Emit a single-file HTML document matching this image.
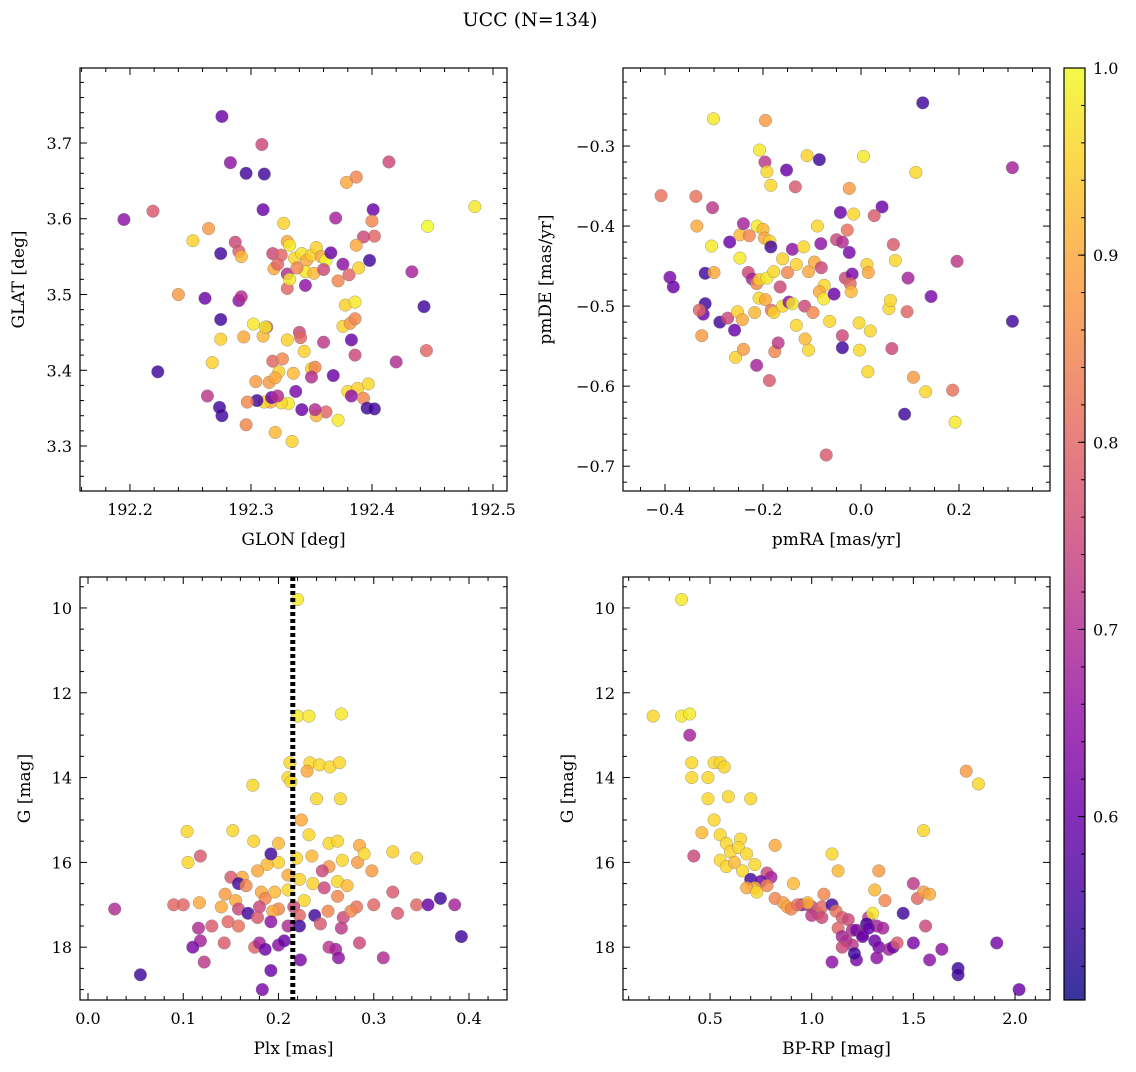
<!DOCTYPE html>
<html><head><meta charset="utf-8"><style>
body{margin:0;background:#fff}
svg text{font-family:"DejaVu Serif","Liberation Serif",serif;fill:#000}
</style></head><body>
<svg id="fig" width="1136" height="1067" viewBox="0 0 1136 1067" xmlns="http://www.w3.org/2000/svg">
<defs>
<linearGradient id="plasma" x1="0" y1="1" x2="0" y2="0">
<stop offset="0" stop-color="#0d0887"/><stop offset="0.1" stop-color="#41049d"/><stop offset="0.2" stop-color="#6a00a8"/><stop offset="0.3" stop-color="#8f0da4"/><stop offset="0.4" stop-color="#b12a90"/><stop offset="0.5" stop-color="#cc4778"/><stop offset="0.6" stop-color="#e16462"/><stop offset="0.7" stop-color="#f2844b"/><stop offset="0.8" stop-color="#fca636"/><stop offset="0.9" stop-color="#fcce25"/><stop offset="1" stop-color="#f0f921"/>
</linearGradient>
</defs>
<text x="530" y="26" text-anchor="middle" font-size="19">UCC (N=134)</text>
</svg>
<script>
// ---- data ----
const tlGlon=[192.276,192.283,192.296,192.311,192.309,192.195,192.219,192.310,192.327,192.370,192.379,192.387,192.414,192.401,192.400,192.402,192.393,192.387,192.485,192.446,192.433,192.398,192.376,192.252,192.265,192.275,192.287,192.290,192.292,192.318,192.325,192.330,192.332,192.336,192.342,192.346,192.350,192.354,192.358,192.362,192.345,192.330,192.319,192.322,192.338,192.352,192.360,192.366,192.345,192.330,192.372,192.381,192.389,192.240,192.262,192.290,192.292,192.275,192.302,192.275,192.294,192.310,192.313,192.312,192.330,192.340,192.341,192.318,192.326,192.323,192.315,192.320,192.335,192.350,192.344,192.360,192.376,192.382,192.386,192.378,192.386,192.383,192.386,192.353,192.350,192.368,192.380,192.388,192.397,192.383,192.393,192.396,192.372,192.362,192.354,192.353,192.342,192.337,192.331,192.325,192.316,192.311,192.317,192.322,192.305,192.297,192.304,192.320,192.334,192.296,192.276,192.274,192.264,192.223,192.268,192.402,192.420,192.443,192.445,192.332];
const tlGlat=[3.735,3.674,3.660,3.659,3.698,3.599,3.610,3.612,3.594,3.601,3.648,3.655,3.675,3.612,3.597,3.577,3.576,3.565,3.616,3.590,3.530,3.545,3.540,3.571,3.587,3.554,3.569,3.557,3.550,3.554,3.552,3.570,3.565,3.548,3.554,3.545,3.552,3.562,3.550,3.545,3.530,3.527,3.534,3.540,3.535,3.528,3.533,3.555,3.512,3.508,3.518,3.526,3.535,3.500,3.495,3.492,3.497,3.467,3.461,3.441,3.444,3.445,3.457,3.457,3.440,3.450,3.443,3.412,3.415,3.398,3.384,3.390,3.396,3.402,3.425,3.437,3.458,3.462,3.468,3.486,3.490,3.440,3.420,3.404,3.391,3.393,3.372,3.376,3.382,3.366,3.363,3.350,3.334,3.345,3.340,3.348,3.348,3.372,3.356,3.357,3.358,3.358,3.364,3.366,3.360,3.358,3.385,3.318,3.306,3.328,3.340,3.351,3.366,3.398,3.410,3.349,3.411,3.484,3.426,3.520];
const tlProb=[0.6,0.65,0.55,0.55,0.75,0.65,0.78,0.6,0.95,0.68,0.9,0.85,0.75,0.6,0.85,0.8,0.75,0.9,0.98,1.0,0.68,0.55,0.65,0.95,0.88,0.55,0.75,0.78,0.92,0.75,0.8,0.9,0.98,0.96,0.97,0.9,0.95,0.95,0.9,1.0,0.98,0.7,0.9,0.8,0.85,0.92,0.75,0.6,0.65,0.8,0.85,0.8,0.95,0.88,0.6,0.65,0.7,0.55,0.98,0.95,0.9,0.92,0.75,0.98,0.95,0.75,0.8,0.8,0.85,0.95,0.88,0.9,0.92,0.95,0.95,0.72,0.95,0.88,0.85,0.95,0.98,0.6,0.75,0.85,0.7,0.6,0.96,0.95,0.96,0.65,0.85,0.55,0.98,0.8,0.92,0.7,0.6,0.62,0.98,0.96,0.9,0.96,0.6,0.7,0.55,0.85,0.88,0.92,0.95,0.85,0.55,0.55,0.72,0.55,0.95,0.55,0.7,0.55,0.8,0.98];

const trPmra=[0.126,0.309,0.309,-0.301,-0.195,-0.207,-0.196,-0.192,-0.152,-0.110,-0.085,0.005,0.112,-0.408,-0.337,-0.303,-0.184,-0.134,-0.024,0.043,0.027,-0.042,-0.015,-0.335,-0.305,-0.268,-0.247,-0.240,-0.228,-0.212,-0.200,-0.197,-0.186,-0.184,-0.140,-0.117,-0.089,-0.082,-0.050,-0.038,-0.024,-0.028,0.066,0.070,0.196,-0.390,-0.383,-0.318,-0.300,-0.247,-0.230,-0.222,-0.213,-0.207,-0.192,-0.178,-0.165,-0.150,-0.160,-0.132,-0.107,-0.095,-0.081,-0.075,-0.085,-0.076,-0.055,-0.032,-0.018,-0.022,-0.020,0.012,0.015,0.096,0.143,-0.318,-0.322,-0.330,-0.325,-0.288,-0.272,-0.252,-0.258,-0.242,-0.217,-0.208,-0.195,-0.183,-0.178,-0.160,-0.147,-0.140,-0.132,-0.115,-0.098,-0.064,-0.004,0.019,0.057,0.094,-0.256,-0.240,-0.213,-0.176,-0.169,-0.187,-0.114,-0.107,-0.038,-0.038,-0.003,0.063,0.107,0.132,0.187,0.192,0.089,0.014,-0.071,0.060];
const trPmde=[-0.246,-0.327,-0.519,-0.266,-0.268,-0.305,-0.320,-0.332,-0.330,-0.312,-0.317,-0.313,-0.333,-0.362,-0.363,-0.377,-0.349,-0.351,-0.353,-0.376,-0.387,-0.383,-0.385,-0.400,-0.425,-0.420,-0.411,-0.397,-0.412,-0.400,-0.404,-0.415,-0.419,-0.426,-0.429,-0.426,-0.400,-0.422,-0.417,-0.420,-0.433,-0.405,-0.423,-0.443,-0.444,-0.464,-0.476,-0.459,-0.458,-0.440,-0.458,-0.466,-0.472,-0.467,-0.465,-0.457,-0.476,-0.458,-0.441,-0.448,-0.457,-0.445,-0.452,-0.474,-0.482,-0.491,-0.485,-0.465,-0.460,-0.472,-0.482,-0.448,-0.458,-0.465,-0.488,-0.497,-0.510,-0.505,-0.537,-0.520,-0.515,-0.507,-0.530,-0.517,-0.508,-0.490,-0.492,-0.505,-0.508,-0.500,-0.495,-0.497,-0.524,-0.500,-0.508,-0.519,-0.521,-0.531,-0.503,-0.507,-0.564,-0.554,-0.574,-0.557,-0.546,-0.593,-0.541,-0.555,-0.537,-0.552,-0.555,-0.553,-0.589,-0.607,-0.605,-0.645,-0.635,-0.582,-0.686,-0.493];
const trProb=[0.55,0.68,0.55,0.98,0.88,0.98,0.72,0.96,0.6,0.95,0.55,0.98,0.96,0.82,0.82,0.72,0.96,0.78,0.88,0.6,0.78,0.6,0.96,0.9,0.98,0.6,0.92,0.68,0.85,0.98,0.92,0.9,0.95,0.55,0.65,0.96,0.96,0.65,0.75,0.7,0.62,0.82,0.78,0.96,0.72,0.62,0.6,0.55,0.9,0.98,0.75,0.68,0.85,0.95,0.98,0.96,0.75,0.85,0.95,0.95,0.9,0.9,0.75,0.96,0.9,0.98,0.6,0.75,0.62,0.8,0.92,0.95,0.9,0.68,0.62,0.55,0.6,0.8,0.88,0.55,0.75,0.95,0.6,0.9,0.92,0.96,0.9,0.82,0.95,0.96,0.65,0.98,0.96,0.75,0.85,0.96,0.96,0.96,0.96,0.8,0.95,0.88,0.68,0.85,0.72,0.78,0.92,0.96,0.75,0.55,0.96,0.75,0.88,0.96,0.82,0.98,0.55,0.96,0.78,0.96];

const blPlx=[0.220,0.220,0.232,0.266,0.212,0.233,0.243,0.254,0.264,0.230,0.210,0.213,0.173,0.240,0.265,0.224,0.152,0.104,0.174,0.232,0.253,0.262,0.285,0.200,0.267,0.283,0.290,0.320,0.345,0.105,0.118,0.200,0.188,0.178,0.192,0.219,0.235,0.253,0.246,0.162,0.150,0.158,0.166,0.210,0.222,0.236,0.262,0.272,0.298,0.248,0.182,0.144,0.155,0.186,0.196,0.210,0.227,0.262,0.282,0.320,0.345,0.357,0.370,0.385,0.090,0.100,0.117,0.028,0.140,0.158,0.168,0.180,0.200,0.194,0.216,0.222,0.238,0.252,0.268,0.276,0.300,0.325,0.116,0.130,0.147,0.158,0.178,0.192,0.210,0.222,0.244,0.266,0.118,0.110,0.143,0.122,0.175,0.180,0.186,0.200,0.206,0.223,0.253,0.260,0.263,0.285,0.310,0.392,0.055,0.192,0.183];
const blG=[9.8,12.55,12.55,12.5,13.65,13.65,13.7,13.75,13.65,13.85,14.0,14.1,14.18,14.5,14.5,15.0,15.25,15.27,15.5,15.35,15.55,15.5,15.6,15.55,15.95,16.0,15.8,15.75,15.9,16.0,15.85,16.0,16.05,16.2,15.8,15.9,15.85,16.1,16.2,16.35,16.35,16.5,16.55,16.3,16.4,16.5,16.45,16.55,16.2,16.6,16.7,16.75,16.9,16.85,16.7,16.65,16.9,16.8,17.05,16.7,17.0,17.0,16.85,17.0,17.0,17.0,16.95,17.1,17.05,17.1,17.2,17.05,17.1,17.15,17.05,17.25,17.25,17.15,17.3,17.15,17.0,17.2,17.55,17.5,17.4,17.5,17.3,17.4,17.5,17.5,17.45,17.55,17.85,18.0,17.9,18.35,18.0,17.9,18.05,17.95,17.85,18.3,18.0,18.05,18.25,17.9,18.25,17.75,18.65,18.55,19.0];
const blProb=[0.98,0.98,0.98,0.98,0.96,0.96,0.96,0.96,0.96,0.9,0.96,0.96,0.96,0.96,0.96,0.9,0.96,0.96,0.95,0.96,0.96,0.96,0.9,0.92,0.96,0.88,0.96,0.95,0.96,0.96,0.78,0.95,0.92,0.9,0.55,0.96,0.92,0.88,0.75,0.9,0.78,0.55,0.85,0.9,0.95,0.95,0.96,0.92,0.88,0.75,0.9,0.88,0.9,0.85,0.92,0.96,0.96,0.85,0.82,0.78,0.8,0.6,0.55,0.68,0.8,0.8,0.9,0.7,0.9,0.75,0.55,0.75,0.85,0.9,0.75,0.8,0.55,0.85,0.75,0.85,0.8,0.78,0.7,0.78,0.8,0.82,0.78,0.65,0.7,0.55,0.78,0.72,0.68,0.62,0.78,0.72,0.8,0.68,0.6,0.65,0.6,0.62,0.72,0.68,0.65,0.75,0.7,0.55,0.55,0.6,0.62];

const brBpRp=[0.36,0.22,0.36,0.40,0.40,0.41,0.52,0.55,0.57,0.41,0.49,0.59,0.70,0.49,1.76,1.82,0.52,0.46,0.55,0.58,0.65,0.82,1.55,0.60,0.64,0.68,0.55,0.58,0.62,0.66,0.72,1.10,1.13,0.42,0.78,0.80,0.70,0.75,0.72,0.68,0.73,0.78,0.82,0.86,0.88,0.90,0.95,0.98,1.00,1.03,1.00,1.05,1.06,1.10,1.12,1.15,1.13,1.18,1.20,1.15,1.22,1.25,1.17,1.20,1.15,1.10,1.22,1.25,1.28,1.30,1.31,1.32,1.31,1.33,1.33,1.32,1.38,1.40,1.42,1.45,1.50,1.52,1.55,1.58,1.56,1.50,1.58,1.64,1.72,1.72,1.91,2.02,1.36,0.98,0.91,1.27,1.28,1.35,1.21,1.05,0.93];
const brG=[9.8,12.55,12.55,12.5,13.0,13.65,13.65,13.65,13.75,14.0,14.0,14.45,14.5,14.5,13.85,14.15,15.0,15.3,15.35,15.55,15.45,15.6,15.25,15.75,15.65,15.8,15.95,16.1,16.0,16.2,16.05,15.8,16.2,15.85,16.25,16.35,16.4,16.45,16.6,16.6,16.7,16.55,16.85,16.95,17.05,17.1,17.0,17.0,17.05,17.2,17.25,17.05,16.75,17.0,17.15,17.3,17.55,17.35,17.6,17.75,17.6,17.7,17.85,17.95,18.0,18.35,18.3,17.75,17.3,17.2,16.65,17.5,17.85,16.2,18.0,18.25,18.05,18.0,17.9,17.2,16.5,16.85,16.7,16.75,17.5,17.9,18.3,18.05,18.5,18.65,17.9,19.0,16.9,16.95,16.5,17.45,17.55,17.55,18.15,17.3,17.0];
const brProb=[0.98,0.96,0.98,0.98,0.68,0.96,0.96,0.96,0.96,0.96,0.96,0.96,0.96,0.96,0.88,0.96,0.96,0.92,0.96,0.96,0.96,0.9,0.96,0.96,0.96,0.96,0.96,0.96,0.92,0.96,0.96,0.96,0.92,0.75,0.75,0.68,0.55,0.6,0.92,0.9,0.96,0.85,0.85,0.88,0.9,0.85,0.62,0.7,0.75,0.82,0.72,0.8,0.85,0.55,0.82,0.78,0.8,0.75,0.7,0.68,0.62,0.65,0.7,0.72,0.75,0.65,0.62,0.6,0.72,0.98,0.92,0.68,0.6,0.88,0.62,0.65,0.68,0.6,0.78,0.55,0.72,0.8,0.88,0.9,0.75,0.62,0.65,0.65,0.55,0.55,0.62,0.6,0.85,0.92,0.92,0.55,0.6,0.68,0.55,0.75,0.82];

const cbTicks=[0.6,0.7,0.8,0.9,1.0];
const cbMin=0.502, cbMax=1.0;

// ---- helpers ----
const NS="http://www.w3.org/2000/svg";
const fig=document.getElementById('fig');
function mk(tag,attrs,parent){const e=document.createElementNS(NS,tag);for(const k in attrs)e.setAttribute(k,attrs[k]);(parent||fig).appendChild(e);return e;}
const stops=[[0,[13,8,135]],[0.1,[65,4,157]],[0.2,[106,0,168]],[0.3,[143,13,164]],[0.4,[177,42,144]],[0.5,[204,71,120]],[0.6,[225,100,98]],[0.7,[242,132,75]],[0.8,[252,166,54]],[0.9,[252,206,37]],[1,[240,249,33]]];
function plasma(v){let t=Math.max(0,Math.min(1,(v-cbMin)/(cbMax-cbMin)));for(let i=1;i<stops.length;i++){if(t<=stops[i][0]){const a=stops[i-1],b=stops[i],f=(t-a[0])/(b[0]-a[0]);return 'rgb('+a[1].map((c,j)=>Math.round(c+(b[1][j]-c)*f)).join(',')+')';}}return 'rgb(240,249,33)';}
function fmt(v,d){const s=v.toFixed(d);return s.startsWith('-')?'\u2212'+s.slice(1):s;}

function panel(cfg){
  const g=mk('g',{});
  
  
  const {x0,x1,y0,y1}=cfg;
  const sx=v=>x0+(v-cfg.xmin)/(cfg.xmax-cfg.xmin)*(x1-x0);
  const sy=cfg.yinv? (v=>y0+(v-cfg.ymin)/(cfg.ymax-cfg.ymin)*(y1-y0)) : (v=>y1-(v-cfg.ymin)/(cfg.ymax-cfg.ymin)*(y1-y0));
  const pg=mk('g',{},g);
  for(let i=0;i<cfg.xs.length;i++){
    const c=mk('circle',{cx:sx(cfg.xs[i]),cy:sy(cfg.ys[i]),r:6.3,fill:plasma(cfg.ps[i]),'fill-opacity':0.82,stroke:'#777','stroke-width':0.5,'stroke-opacity':0.7},pg);
    
    
  }
  if(cfg.vline!==undefined){
    const l=mk('line',{x1:sx(cfg.vline),x2:sx(cfg.vline),y1:y0,y2:y1,stroke:'#000','stroke-width':5,'stroke-dasharray':'4,3'},g);
    
    
  }
  const fr=mk('rect',{x:x0,y:y0,width:x1-x0,height:y1-y0,fill:'none',stroke:'#000','stroke-width':1.2},g);
  
  
  for(let v=Math.ceil(cfg.xmin/cfg.xminor-1e-6)*cfg.xminor;v<=cfg.xmax+1e-9;v+=cfg.xminor){
    const X=sx(v);const isMaj=Math.abs(v/cfg.xmajor-Math.round(v/cfg.xmajor))<1e-4;const L=isMaj?7:4;
    mk('line',{x1:X,x2:X,y1:y1,y2:y1-L,stroke:'#000','stroke-width':1},g);
    mk('line',{x1:X,x2:X,y1:y0,y2:y0+L,stroke:'#000','stroke-width':1},g);
    if(isMaj){const t=mk('text',{x:X,y:y1+24,'text-anchor':'middle','font-size':16},g);t.textContent=fmt(Math.round(v/cfg.xmajor)*cfg.xmajor,cfg.xdec);
      }
  }
  for(let v=Math.ceil(cfg.ymin/cfg.yminor-1e-6)*cfg.yminor;v<=cfg.ymax+1e-9;v+=cfg.yminor){
    const Y=sy(v);const isMaj=Math.abs(v/cfg.ymajor-Math.round(v/cfg.ymajor))<1e-4;const L=isMaj?7:4;
    mk('line',{x1:x0,x2:x0+L,y1:Y,y2:Y,stroke:'#000','stroke-width':1},g);
    mk('line',{x1:x1,x2:x1-L,y1:Y,y2:Y,stroke:'#000','stroke-width':1},g);
    if(isMaj){const t=mk('text',{x:x0-8,y:Y+6,'text-anchor':'end','font-size':16},g);t.textContent=fmt(Math.round(v/cfg.ymajor)*cfg.ymajor,cfg.ydec);
      }
  }
  const xl=mk('text',{x:(x0+x1)/2,y:y1+54,'text-anchor':'middle','font-size':17},g);xl.textContent=cfg.xlabel;
  
  const ylx=cfg.ylx;
  const yl=mk('text',{x:ylx,y:(y0+y1)/2,'text-anchor':'middle','font-size':17,transform:`rotate(-90 ${ylx} ${(y0+y1)/2})`},g);yl.textContent=cfg.ylabel;
  
}

panel({name:'panel-glon-glat',x0:80,x1:507,y0:68,y1:491,xmin:192.1587,xmax:192.5116,ymin:3.2406,ymax:3.799,xmajor:0.1,xminor:0.02,ymajor:0.1,yminor:0.02,xdec:1,ydec:1,xs:tlGlon,ys:tlGlat,ps:tlProb,xlabel:'GLON [deg]',ylabel:'GLAT [deg]',ylx:24});
panel({name:'panel-pm',x0:623,x1:1050,y0:68,y1:491,xmin:-0.4857,xmax:0.3857,ymin:-0.731,ymax:-0.2025,xmajor:0.2,xminor:0.05,ymajor:0.1,yminor:0.02,xdec:1,ydec:1,xs:trPmra,ys:trPmde,ps:trProb,xlabel:'pmRA [mas/yr]',ylabel:'pmDE [mas/yr]',ylx:551});
panel({name:'panel-plx-g',x0:80,x1:507,y0:577,y1:1000,xmin:-0.0084,xmax:0.4399,ymin:9.27,ymax:19.245,yinv:true,xmajor:0.1,xminor:0.02,ymajor:2,yminor:0.5,xdec:1,ydec:0,xs:blPlx,ys:blG,ps:blProb,xlabel:'Plx [mas]',ylabel:'G [mag]',ylx:30,vline:0.215});
panel({name:'panel-cmd',x0:623,x1:1050,y0:577,y1:1000,xmin:0.072,xmax:2.172,ymin:9.27,ymax:19.245,yinv:true,xmajor:0.5,xminor:0.1,ymajor:2,yminor:0.5,xdec:1,ydec:0,xs:brBpRp,ys:brG,ps:brProb,xlabel:'BP-RP [mag]',ylabel:'G [mag]',ylx:573});

const cb=mk('g',{});


mk('rect',{x:1064,y:68,width:21,height:932,fill:'url(#plasma)','fill-opacity':0.82},cb);
mk('rect',{x:1064,y:68,width:21,height:932,fill:'none',stroke:'#000','stroke-width':1.2},cb);
const cy=v=>1000-(v-cbMin)/(cbMax-cbMin)*932;
for(let v=0.52;v<=1.0001;v+=0.02){const Y=cy(v);mk('line',{x1:1085,x2:1081,y1:Y,y2:Y,stroke:'#000','stroke-width':1},cb);}
cbTicks.forEach(v=>{const Y=cy(v);mk('line',{x1:1085,x2:1078,y1:Y,y2:Y,stroke:'#000','stroke-width':1},cb);
  const t=mk('text',{x:1093,y:Y+6,'font-size':16},cb);t.textContent=v.toFixed(1);
  });
</script>
</body></html>
